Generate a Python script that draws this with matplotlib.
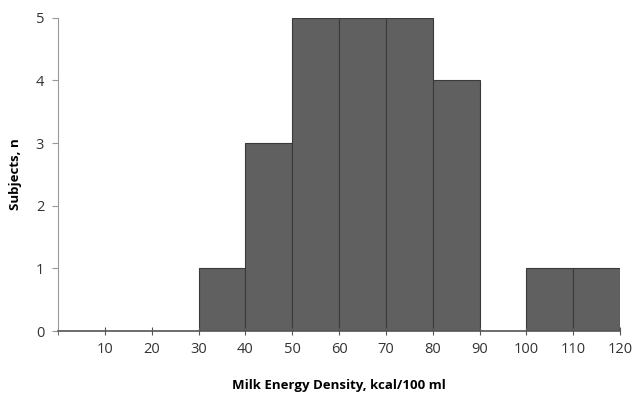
import numpy as np
import matplotlib
matplotlib.use("Agg")
import matplotlib.pyplot as plt

plt.rcParams['font.family'] = ['Open Sans', 'DejaVu Sans']

# histogram bins (lower edges) and subject counts
bin_left = [0, 10, 20, 30, 40, 50, 60, 70, 80, 90, 100, 110]
counts = [0, 0, 0, 1, 3, 5, 5, 5, 4, 0, 1, 1]
xticks = [10, 20, 30, 40, 50, 60, 70, 80, 90, 100, 110, 120]
yticks = [0, 1, 2, 3, 4, 5]

fig = plt.figure(figsize=(6.38, 3.96), dpi=100)
ax = fig.add_axes([0.091, 0.164, 0.881, 0.791])

ax.bar(bin_left, counts, width=10, align='edge', color='#606060',
       edgecolor='#3a3a3a', linewidth=0.8)

ax.set_xlim(0, 120)
ax.set_ylim(0, 5)
ax.set_xticks(xticks)
ax.set_xticks([0], minor=True)
ax.set_yticks(yticks)
ax.tick_params(axis='x', which='both', direction='inout', length=6,
               color='#555555', labelsize=10.5, labelcolor='#333333', pad=5)
ax.tick_params(axis='y', direction='out', length=4, color='#999999',
               labelsize=10.5, labelcolor='#333333', pad=6)

for s in ['top', 'right']:
    ax.spines[s].set_visible(False)
ax.spines['left'].set_color('#999999')
ax.spines['bottom'].set_color('#555555')
ax.spines['bottom'].set_linewidth(1.2)

ax.set_xlabel('Milk Energy Density, kcal/100 ml', fontsize=9.5,
              fontweight='bold', labelpad=16)
ax.set_ylabel('Subjects, n', fontsize=9.5, fontweight='bold', labelpad=10)

fig.savefig('out.png', dpi=100)
